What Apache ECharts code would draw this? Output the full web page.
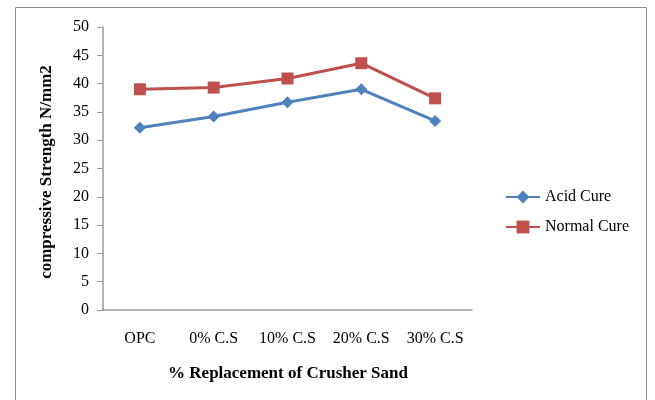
<!DOCTYPE html>
<html><head><meta charset="utf-8">
<script src="https://cdn.jsdelivr.net/npm/echarts@6/dist/echarts.min.js"></script>
<style>html,body{margin:0;padding:0;background:#fff}#c{width:655px;height:400px}</style>
</head><body><div id="c"></div>
<script>
const categories = ['OPC', '0% C.S', '10% C.S', '20% C.S', '30% C.S'];
const acidCure = [32.2, 34.2, 36.7, 39.0, 33.4];
const normalCure = [39.0, 39.3, 40.9, 43.6, 37.4];
const seriesNames = ['Acid Cure', 'Normal Cure'];
const yTitle = 'compressive Strength N/mm2';
const xTitle = '% Replacement of Crusher Sand';

const font = '"Liberation Serif", "Times New Roman", serif';
const chart = echarts.init(document.getElementById('c'), null, {renderer: 'canvas'});
chart.setOption({
  animation: false,
  backgroundColor: '#fff',
  textStyle: {fontFamily: font},
  graphic: [{
    type: 'rect', shape: {x: 15.5, y: 7.5, width: 631, height: 420},
    style: {fill: 'none', stroke: '#8c8c8c', lineWidth: 1}, z: -1
  }, {
    type: 'text',
    rotation: Math.PI / 2,
    x: 47, y: 172,
    style: {text: yTitle, font: 'bold 17px ' + font, fill: '#000', align: 'center', verticalAlign: 'middle'}
  }, {
    type: 'text', x: 288, y: 374,
    style: {text: xTitle, font: 'bold 17px ' + font, fill: '#000', align: 'center', verticalAlign: 'middle'}
  }],
  grid: {left: 103, top: 27, width: 369, height: 283, containLabel: false},
  legend: {
    orient: 'vertical', left: 500, top: 184, itemGap: 14,
    itemWidth: 34, itemHeight: 16,
    textStyle: {fontFamily: font, fontSize: 16, color: '#000'},
    data: seriesNames
  },
  xAxis: {
    type: 'category', data: categories, boundaryGap: true,
    axisLine: {lineStyle: {color: '#999', width: 1.5}},
    axisTick: {show: false},
    axisLabel: {fontFamily: font, fontSize: 16, color: '#000', margin: 21, interval: 0}
  },
  yAxis: {
    type: 'value', min: 0, max: 50, interval: 5,
    axisLine: {show: true, lineStyle: {color: '#999', width: 1.5}},
    axisTick: {show: true, length: 6, lineStyle: {color: '#999'}},
    splitLine: {show: false},
    axisLabel: {fontFamily: font, fontSize: 16, color: '#000', margin: 14}
  },
  series: [{
    name: seriesNames[0], type: 'line', data: acidCure,
    symbol: 'diamond', symbolSize: 12,
    lineStyle: {color: '#4F81BD', width: 3},
    itemStyle: {color: '#4F81BD'}
  }, {
    name: seriesNames[1], type: 'line', data: normalCure,
    symbol: 'rect', symbolSize: 12,
    lineStyle: {color: '#C0504D', width: 3},
    itemStyle: {color: '#C0504D'}
  }]
});
</script></body></html>
